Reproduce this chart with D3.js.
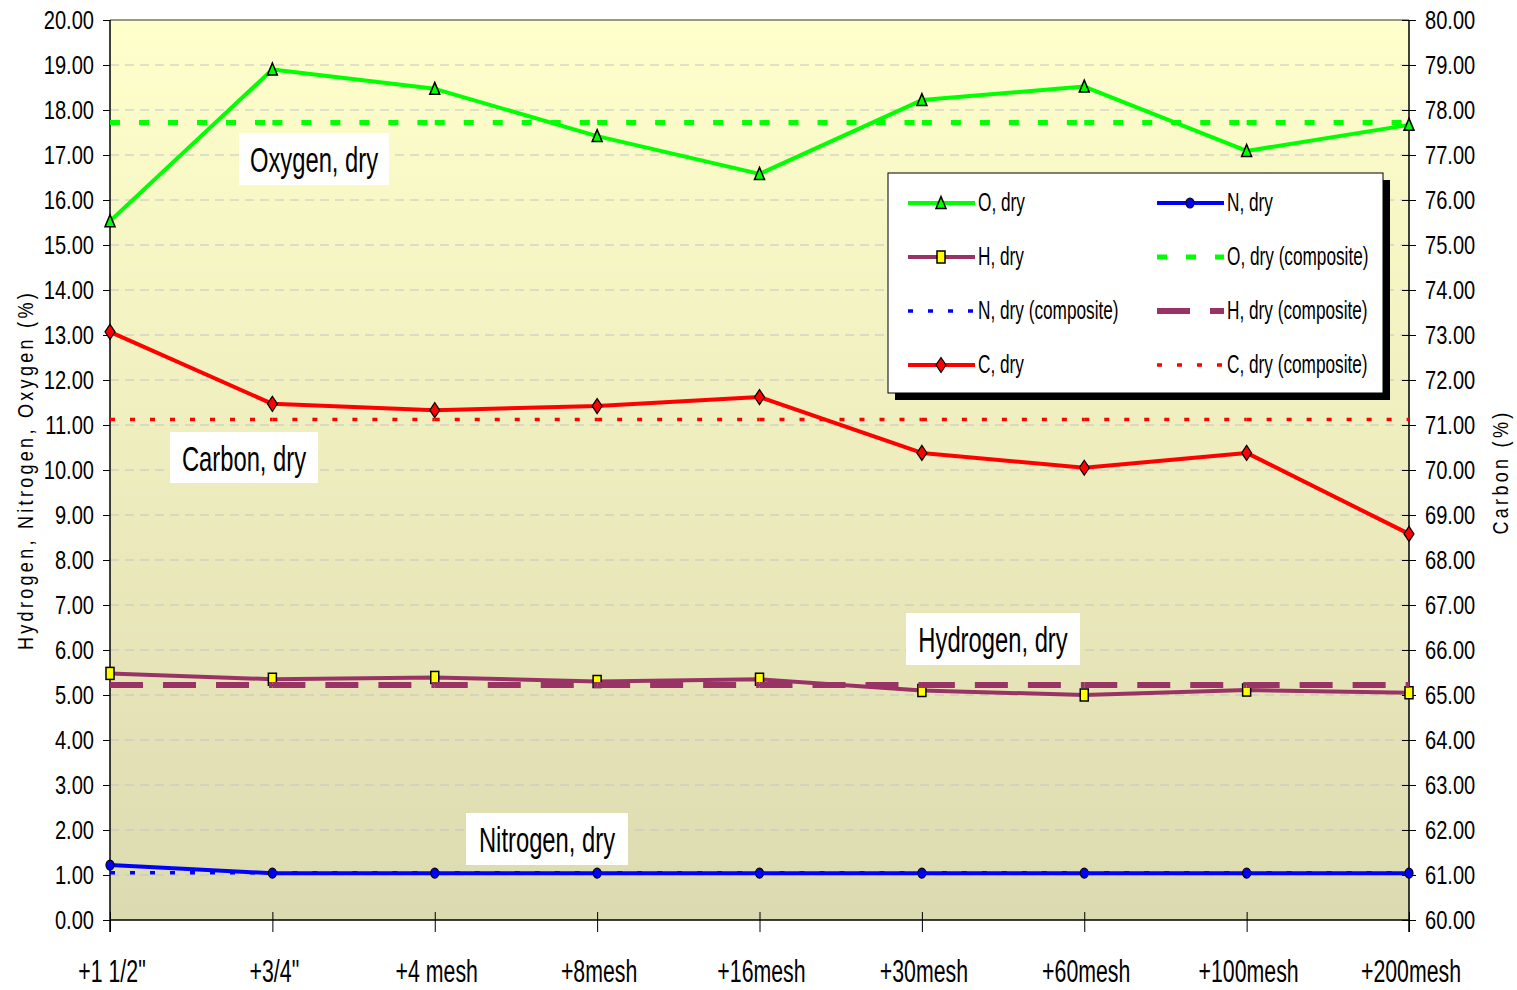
<!DOCTYPE html>
<html>
<head>
<meta charset="utf-8">
<script src="https://cdn.jsdelivr.net/npm/d3@7"></script>
<style>
body{margin:0;background:#fff;}
text{font-family:"Liberation Sans",Arial,sans-serif;fill:#000;}
</style>
</head>
<body>
<svg width="1517" height="990"></svg>
<script>
// data
const categories=['+1 1/2"','+3/4"','+4 mesh','+8mesh','+16mesh','+30mesh','+60mesh','+100mesh','+200mesh'];
const oDry=[15.53,18.90,18.47,17.42,16.58,18.22,18.52,17.09,17.67];
const hDry=[5.48,5.35,5.39,5.30,5.35,5.10,5.00,5.11,5.05];
const nDry=[1.22,1.04,1.04,1.04,1.04,1.04,1.04,1.04,1.04];
const cDry=[73.07,71.47,71.33,71.42,71.62,70.38,70.05,70.38,68.58];
const oComp=[17.72,17.72,17.72,17.72,17.72,17.72,17.72,17.72,17.72];
const hComp=[5.22,5.22,5.22,5.22,5.22,5.22,5.22,5.22,5.22];
const nComp=[1.05,1.05,1.05,1.05,1.05,1.05,1.05,1.05,1.05];
const cComp=[71.12,71.12,71.12,71.12,71.12,71.12,71.12,71.12,71.12];
const leftTicks=[0,1,2,3,4,5,6,7,8,9,10,11,12,13,14,15,16,17,18,19,20];
const rightTicks=[60,61,62,63,64,65,66,67,68,69,70,71,72,73,74,75,76,77,78,79,80];
const notes=[["Oxygen, dry",0],["Carbon, dry",1],["Hydrogen, dry",2],["Nitrogen, dry",3]];

const svg=d3.select("svg");
const L=110,R=1409,T=20,B=920;
const NX=0.82; // narrow-font squeeze
const x=d3.scalePoint().domain(categories).range([L,R]);
const yL=d3.scaleLinear().domain([0,20]).range([B,T]);
const yR=d3.scaleLinear().domain([60,80]).range([B,T]);
const fmt=d3.format(".2f");

// background gradient
const grad=svg.append("defs").append("linearGradient").attr("id","bg").attr("x1",0).attr("y1",0).attr("x2",0).attr("y2",1);
grad.append("stop").attr("offset","0%").attr("stop-color","#FFFFCC");
grad.append("stop").attr("offset","100%").attr("stop-color","#DCDAB0");
svg.append("rect").attr("x",L).attr("y",T).attr("width",R-L).attr("height",B-T).attr("fill","url(#bg)");

// grid
svg.append("g").selectAll("line").data(leftTicks.slice(1,-1)).join("line")
  .attr("x1",L).attr("x2",R).attr("y1",d=>yL(d)).attr("y2",d=>yL(d))
  .attr("stroke","#C4C4C4").attr("stroke-width",1).attr("stroke-dasharray","9,6");

// top border
svg.append("line").attr("x1",L).attr("x2",R).attr("y1",T).attr("y2",T).attr("stroke","#333").attr("stroke-width",1);

function stretched(g,txt,px,py,size,k,anchor){
  return g.append("text").attr("transform","translate("+px+","+py+") scale("+NX+","+k+")")
    .attr("text-anchor",anchor||"middle").style("font-size",size+"px").text(txt);
}

// axes
const ax=svg.append("g").attr("transform","translate("+L+",0)")
  .call(d3.axisLeft(yL).tickValues(leftTicks).tickFormat("").tickSize(7));
const ar=svg.append("g").attr("transform","translate("+R+",0)")
  .call(d3.axisRight(yR).tickValues(rightTicks).tickFormat("").tickSize(7));
ar.selectAll(".tick line").attr("x1",-7);
const ab=svg.append("g").attr("transform","translate(0,"+B+")")
  .call(d3.axisBottom(x).tickSize(12).tickFormat(""));
ab.selectAll(".tick line").attr("y1",-8);
[ax,ar,ab].forEach(g=>{
  g.selectAll(".domain").attr("stroke","#000").attr("stroke-width",1.5);
  g.selectAll(".tick line").attr("stroke","#000").attr("stroke-width",1);
});
ab.select(".domain").attr("d","M"+L+",0H"+R);
ax.select(".domain").attr("d","M0,"+(B+12)+"V"+T);
ar.select(".domain").attr("d","M0,"+(B+12)+"V"+T);

// tick labels (narrow)
const tl=svg.append("g");
leftTicks.forEach(t=>stretched(tl,fmt(t),94,yL(t)+9,24.5,1.06,"end"));
rightTicks.forEach(t=>stretched(tl,fmt(t),1425,yR(t)+9,24.5,1.06,"start"));
categories.forEach(c=>stretched(tl,c,x(c)+2,982,26,1.18,"middle"));

// axis titles
svg.append("text").attr("transform","translate(33,470) rotate(-90) scale("+NX+",1)").attr("text-anchor","middle")
  .style("font-size","22px").style("letter-spacing","4px").text("Hydrogen, Nitrogen, Oxygen (%)");
svg.append("text").attr("transform","translate(1508,472) rotate(-90) scale("+NX+",1)").attr("text-anchor","middle")
  .style("font-size","22px").style("letter-spacing","4px").text("Carbon (%)");

// markers
const markers={
  tri:g=>g.append("path").attr("d","M0,-6.5L5,5.5L-5,5.5Z").attr("fill","#00FF00").attr("stroke","#000").attr("stroke-width",1.5),
  sq:g=>g.append("rect").attr("x",-4).attr("y",-6).attr("width",8).attr("height",12).attr("fill","#FFFF00").attr("stroke","#000").attr("stroke-width",1.5),
  dia:g=>g.append("path").attr("d","M0,-7.5L5,0L0,7.5L-5,0Z").attr("fill","#FF0000").attr("stroke","#000").attr("stroke-width",1.2),
  circ:g=>g.append("ellipse").attr("rx",4).attr("ry",5).attr("fill","#0000FF").attr("stroke","#000").attr("stroke-width",1.2)
};

function solid(vals,y,color,mk){
  const g=svg.append("g");
  g.append("path").datum(vals).attr("fill","none").attr("stroke",color).attr("stroke-width",4)
    .attr("stroke-linejoin","round")
    .attr("d",d3.line().x((d,i)=>x(categories[i])).y(d=>y(d)));
  vals.forEach((v,i)=>{
    const m=g.append("g").attr("transform","translate("+x(categories[i])+","+y(v)+")");
    markers[mk](m);
  });
}
function comp(vals,y,color,w,dash){
  const g=svg.append("g");
  d3.pairs(vals.map((v,i)=>[x(categories[i]),y(v)])).forEach(([a,b])=>{
    g.append("line").attr("x1",a[0]).attr("y1",a[1]).attr("x2",b[0]).attr("y2",b[1])
      .attr("stroke",color).attr("stroke-width",w).attr("stroke-dasharray",dash);
  });
}

solid(oDry,yL,"#00FF00","tri");
solid(nDry,yL,"#0000FF","circ");
solid(hDry,yL,"#993366","sq");
comp(oComp,yL,"#00FF00",5,"10,19");
comp(nComp,yL,"#0000FF",3.5,"5,15");
comp(hComp,yL,"#993366",6,"33,20");
solid(cDry,yR,"#FF0000","dia");
comp(cComp,yR,"#FF0000",3.5,"5,15");

// annotation boxes
const boxes=[[239,133,150,52],[170,432,148,51],[906,613,174,52],[466,813,162,52]];
const ann=svg.append("g");
notes.forEach(([t,i])=>{
  const b=boxes[i];
  ann.append("rect").attr("x",b[0]).attr("y",b[1]).attr("width",b[2]).attr("height",b[3]).attr("fill","#fff");
  stretched(ann,t,b[0]+b[2]/2,b[1]+39,29,1.2,"middle");
});

// legend
const lg=svg.append("g");
lg.append("rect").attr("x",895).attr("y",180).attr("width",495).attr("height",220).attr("fill","#000");
lg.append("rect").attr("x",888).attr("y",173).attr("width",495).attr("height",220).attr("fill","#fff").attr("stroke","#000").attr("stroke-width",1);
const legendItems=[
  ["O, dry","#00FF00",4,null,"tri"],["N, dry","#0000FF",4,null,"circ"],
  ["H, dry","#993366",4,null,"sq"],["O, dry (composite)","#00FF00",5,"10,19",null],
  ["N, dry (composite)","#0000FF",3.5,"5,15",null],["H, dry (composite)","#993366",6,"33,20",null],
  ["C, dry","#FF0000",4,null,"dia"],["C, dry (composite)","#FF0000",3.5,"5,15",null]
];
const rowY=[203,257,311,365], colX=[908,1157];
legendItems.forEach((it,i)=>{
  const cx=colX[i%2], cy=rowY[Math.floor(i/2)];
  lg.append("line").attr("x1",cx).attr("x2",cx+67).attr("y1",cy).attr("y2",cy)
    .attr("stroke",it[1]).attr("stroke-width",it[2]).attr("stroke-dasharray",it[3]);
  if(it[4]) markers[it[4]](lg.append("g").attr("transform","translate("+(cx+33)+","+cy+")"));
  stretched(lg,it[0],cx+70,cy+8,21,1.22,"start");
});
</script>
</body>
</html>
